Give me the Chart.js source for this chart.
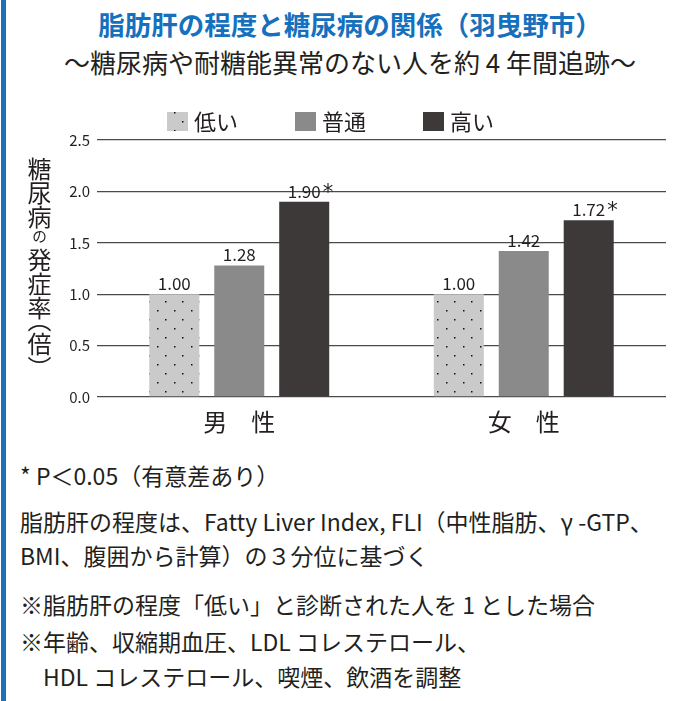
<!DOCTYPE html>
<html><head><meta charset="utf-8">
<script src="https://cdn.jsdelivr.net/npm/chart.js@4"></script>
<style>
html,body{margin:0;padding:0;background:#fff;}
body{width:682px;height:701px;position:relative;overflow:hidden;font-family:"Noto Sans CJK JP","Noto Sans",sans-serif;color:#231f20;}
#bar{position:absolute;left:1px;top:0;width:5px;height:701px;background:#1b6fbd;}
#title{position:absolute;left:0;width:700px;top:6px;text-align:center;font-size:26.5px;font-weight:bold;color:#1570be;line-height:36px;white-space:nowrap;}
#sub{position:absolute;left:0;width:700px;top:44px;text-align:center;font-size:26px;line-height:36px;white-space:nowrap;}
#wrap{position:absolute;left:0;top:0;width:682px;height:440px;}
#ytitle{position:absolute;left:25px;top:157px;writing-mode:vertical-rl;font-size:24px;line-height:28px;letter-spacing:0;white-space:nowrap;}
#ytitle .no{font-size:15px;letter-spacing:4px;}
#ytitle .p{font-feature-settings:"vhal";letter-spacing:0;}
.notes{position:absolute;left:20px;font-size:23px;white-space:nowrap;}
</style></head>
<body>
<div id="bar"></div>
<div id="title">脂肪肝の程度と糖尿病の関係（羽曳野市）</div>
<div id="sub">～糖尿病や耐糖能異常のない人を約 4 年間追跡～</div>
<div id="wrap"><canvas id="c" width="682" height="440"></canvas></div>
<div id="ytitle">糖尿病<span class="no">の</span>発症率<span class="p">（</span>倍<span class="p">）</span></div>
<div class="notes" style="top:458px;line-height:34px;">* P＜0.05（有意差あり）</div>
<div class="notes" style="top:504px;line-height:34px;">脂肪肝の程度は、Fatty Liver Index, FLI（中性脂肪、γ -GTP、<br>BMI、腹囲から計算）の３分位に基づく</div>
<div class="notes" style="top:587px;line-height:34px;">※脂肪肝の程度「低い」と診断された人を 1 とした場合</div>
<div class="notes" style="top:624px;line-height:35px;">※年齢、収縮期血圧、LDL コレステロール、<br><span style="padding-left:23px">HDL コレステロール、喫煙、飲酒を調整</span></div>
<script>
const categories = ['男　性', '女　性'];
const seriesLabels = ['低い', '普通', '高い'];
const lowValues = [1.00, 1.00];
const midValues = [1.28, 1.42];
const highValues = [1.90, 1.72];
const significant = [[false, false], [false, false], [true, true]];
const yTicks = [0, 0.5, 1.0, 1.5, 2.0, 2.5];

function dotPattern() {
  const c = document.createElement('canvas');
  c.width = 17; c.height = 18;
  const x = c.getContext('2d');
  x.fillStyle = '#cacaca'; x.fillRect(0, 0, 17, 18);
  x.fillStyle = '#111'; x.fillRect(4, 4, 1.5, 1.5); x.fillRect(12, 13, 1.5, 1.5);
  return x.createPattern(c, 'repeat');
}
const FONT = '"Noto Sans CJK JP", "Noto Sans", sans-serif';

const valueLabels = {
  id: 'valueLabels',
  afterDatasetsDraw(chart) {
    const ctx = chart.ctx;
    ctx.save();
    chart.data.datasets.forEach((ds, di) => {
      chart.getDatasetMeta(di).data.forEach((bar, i) => {
        const txt = ds.data[i].toFixed(2);
        ctx.font = '17px ' + FONT;
        ctx.fillStyle = '#231f20';
        ctx.textAlign = 'center';
        ctx.textBaseline = 'alphabetic';
        ctx.fillText(txt, bar.x, bar.y - 4);
        if (significant[di][i]) {
          const w = ctx.measureText(txt).width;
          ctx.font = '21px "DejaVu Sans", sans-serif';
          ctx.textAlign = 'left';
          ctx.fillText('*', bar.x + w / 2 + 2, bar.y - 3);
        }
      });
    });
    ctx.restore();
  }
};

const customLegend = {
  id: 'customLegend',
  afterDraw(chart) {
    const ctx = chart.ctx;
    ctx.save();
    let x = 167;
    const y = 112;
    ctx.font = '22px ' + FONT;
    ctx.textBaseline = 'middle';
    ctx.textAlign = 'left';
    chart.data.datasets.forEach(ds => {
      ctx.fillStyle = ds.backgroundColor;
      ctx.fillRect(x, y, 21, 19);
      ctx.fillStyle = '#231f20';
      ctx.fillText(ds.label, x + 27, y + 10);
      x += 27 + ctx.measureText(ds.label).width + 57;
    });
    ctx.restore();
  }
};

new Chart(document.getElementById('c'), {
  type: 'bar',
  data: {
    labels: categories,
    datasets: [
      { label: seriesLabels[0], data: lowValues, backgroundColor: dotPattern() },
      { label: seriesLabels[1], data: midValues, backgroundColor: '#8a8a8a' },
      { label: seriesLabels[2], data: highValues, backgroundColor: '#3d3938' }
    ]
  },
  options: {
    responsive: false,
    animation: false,
    devicePixelRatio: 1,
    categoryPercentage: 0.685,
    barPercentage: 0.77,
    layout: { padding: { left: 0, right: 16, top: 140, bottom: 0 } },
    plugins: { legend: { display: false }, tooltip: { enabled: false } },
    scales: {
      x: {
        grid: { display: false },
        border: { display: false },
        ticks: { font: { size: 24, family: FONT }, color: '#231f20', padding: 2 },
        afterFit(s) { s.height = 43; }
      },
      y: {
        min: 0, max: 2.5,
        afterBuildTicks(s) { s.ticks = yTicks.map(v => ({ value: v })); },
        ticks: { font: { size: 15, family: FONT }, color: '#231f20', padding: 7, callback: v => Number(v).toFixed(1) },
        grid: { color: '#4a4a4a', lineWidth: 1.3, drawTicks: false },
        border: { display: false },
        afterFit(s) { s.width = 97; }
      }
    }
  },
  plugins: [valueLabels, customLegend]
});
</script>
</body></html>
